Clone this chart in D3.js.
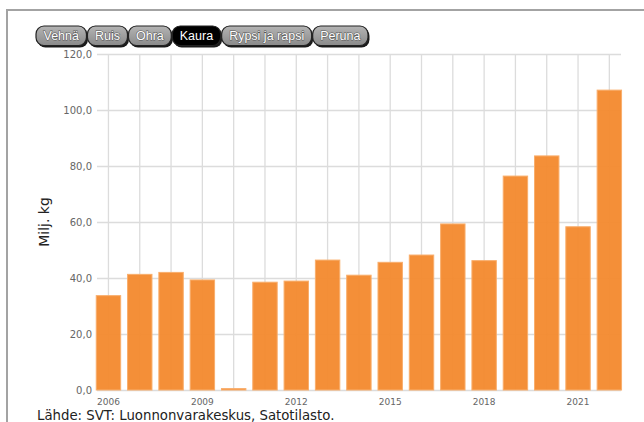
<!DOCTYPE html>
<html lang="fi">
<head>
	<meta charset="utf-8">
	<title>Kaura</title>
	<script src="https://d3js.org/d3.v7.min.js" charset="utf-8"></script>
<style>
    body {
        margin: 0;
        background: #fff;
        font-family: "DejaVu Sans", Verdana, sans-serif;
    }
    #chart {
        width: 644px;
        height: 422px;
    }
    .ytick, .xtick {
        fill: #666;
    }
    .btn text {
        font-family: "Liberation Sans", Arial, sans-serif;
        font-size: 12.5px;
        fill: #fff;
    }
</style>
</head>
<body>
    <div id="chart"></div>
    <script>

    //_____________________________DATA_____________________________

    var crops = ["Vehnä", "Ruis", "Ohra", "Kaura", "Rypsi ja rapsi", "Peruna"];
    var selectedCrop = "Kaura";

    var years = [2006, 2007, 2008, 2009, 2010, 2011, 2012, 2013, 2014,
                 2015, 2016, 2017, 2018, 2019, 2020, 2021, 2022];
    var values = [33.7, 41.3, 42.0, 39.3, 0.5, 38.5, 38.9, 46.4, 41.0,
                  45.6, 48.2, 59.3, 46.2, 76.4, 83.6, 58.3, 107.1];

    var yTicks = [0, 20, 40, 60, 80, 100, 120];
    var xLabelYears = [2006, 2009, 2012, 2015, 2018, 2021];

    var yTitle = "Milj. kg";
    var source = "Lähde: SVT: Luonnonvarakeskus, Satotilasto.";

    //_____________________________SVG_____________________________

    var width = 644;
    var height = 422;

    var svg = d3.select("#chart")
        .append("svg")
        .attr("width", width)
        .attr("height", height);

    // frame: grey line along top and left
    svg.append("path")
        .attr("d", "M7,422V10H644")
        .attr("fill", "none")
        .attr("stroke", "#a3a3a3")
        .attr("stroke-width", 2);

    var fi = d3.formatLocale({decimal: ",", thousands: " ", grouping: [3], currency: ["", " €"]});
    var fmt = fi.format(".1f");

    var x = d3.scaleBand()
        .domain(years)
        .range([92.8, 625])
        .paddingInner(0.22)
        .paddingOuter(0.11);

    var y = d3.scaleLinear()
        .domain([0, 120])
        .range([390, 54]);

    var grid = svg.append("g");

    // horizontal grid
    grid.selectAll(".hgrid")
        .data(yTicks)
        .enter().append("line")
        .attr("class", "hgrid")
        .attr("x1", 97)
        .attr("x2", 621)
        .attr("y1", function(d) { return y(d) + 0.5; })
        .attr("y2", function(d) { return y(d) + 0.5; })
        .attr("stroke", "#dcdcdc")
        .attr("stroke-width", 1.3);

    // vertical grid at every year
    grid.selectAll(".vgrid")
        .data(years)
        .enter().append("line")
        .attr("class", "vgrid")
        .attr("x1", function(d) { return x(d) + x.bandwidth() / 2; })
        .attr("x2", function(d) { return x(d) + x.bandwidth() / 2; })
        .attr("y1", y(120))
        .attr("y2", y(0))
        .attr("stroke", "#dcdcdc")
        .attr("stroke-width", 1.3);

    // y labels
    svg.append("g")
        .selectAll("text")
        .data(yTicks)
        .enter().append("text")
        .attr("class", "ytick")
        .attr("x", 92)
        .attr("y", function(d) { return y(d); })
        .attr("dy", "0.35em")
        .attr("text-anchor", "end")
        .style("font-size", "10px")
        .text(function(d) { return fmt(d); });

    // x labels
    svg.append("g")
        .selectAll("text")
        .data(xLabelYears)
        .enter().append("text")
        .attr("class", "xtick")
        .attr("x", function(d) { return x(d) + x.bandwidth() / 2; })
        .attr("y", 405)
        .attr("text-anchor", "middle")
        .style("font-size", "9px")
        .attr("fill", "#555")
        .text(function(d) { return d; });

    // bars
    svg.append("g")
        .selectAll("rect")
        .data(values)
        .enter().append("rect")
        .attr("x", function(d, i) { return x(years[i]); })
        .attr("width", x.bandwidth())
        .attr("y", function(d) { return y(d); })
        .attr("height", function(d) { return y(0) - y(d); })
        .attr("fill", "#f3892d")
        .attr("fill-opacity", 0.95)
        .attr("stroke", "#f9ae6c")
        .attr("stroke-width", 1);

    // y title
    svg.append("text")
        .attr("transform", "translate(49,222) rotate(-90)")
        .attr("text-anchor", "middle")
        .style("font-size", "14px")
        .attr("fill", "#222")
        .text(yTitle);

    // source
    svg.append("text")
        .attr("x", 37)
        .attr("y", 420)
        .style("font-size", "13.3px")
        .attr("fill", "#222")
        .text(source);

    //_____________________________BUTTONS_____________________________

    var defs = svg.append("defs");
    var grad = defs.append("linearGradient")
        .attr("id", "btngrad")
        .attr("x1", 0).attr("y1", 0).attr("x2", 0).attr("y2", 1);
    grad.append("stop").attr("offset", "0%").attr("stop-color", "#b4b4b4");
    grad.append("stop").attr("offset", "100%").attr("stop-color", "#8a8a8a");

    var bx = 36;
    var by = 26;
    var bh = 19.5;

    crops.forEach(function(c) {
        var g = svg.append("g").attr("class", "btn");
        var t = g.append("text")
            .attr("y", by + bh / 2)
            .attr("dy", "0.36em")
            .attr("text-anchor", "middle")
            .text(c);
        var w = t.node().getComputedTextLength() + 15;
        var on = c === selectedCrop;

        g.insert("rect", "text")
            .attr("x", bx + 1.5)
            .attr("y", by + 2)
            .attr("width", w)
            .attr("height", bh)
            .attr("rx", 8)
            .attr("fill", "#1a1a1a");
        g.insert("rect", "text")
            .attr("x", bx)
            .attr("y", by)
            .attr("width", w)
            .attr("height", bh)
            .attr("rx", 8)
            .attr("fill", on ? "#000" : "url(#btngrad)")
            .attr("stroke", "#222")
            .attr("stroke-width", 1.2);

        t.attr("x", bx + w / 2)
            .style("paint-order", "stroke")
            .style("stroke", on ? "none" : "#555")
            .style("stroke-width", 1);

        bx += w + 1;
    });

    </script>
</body>
</html>
